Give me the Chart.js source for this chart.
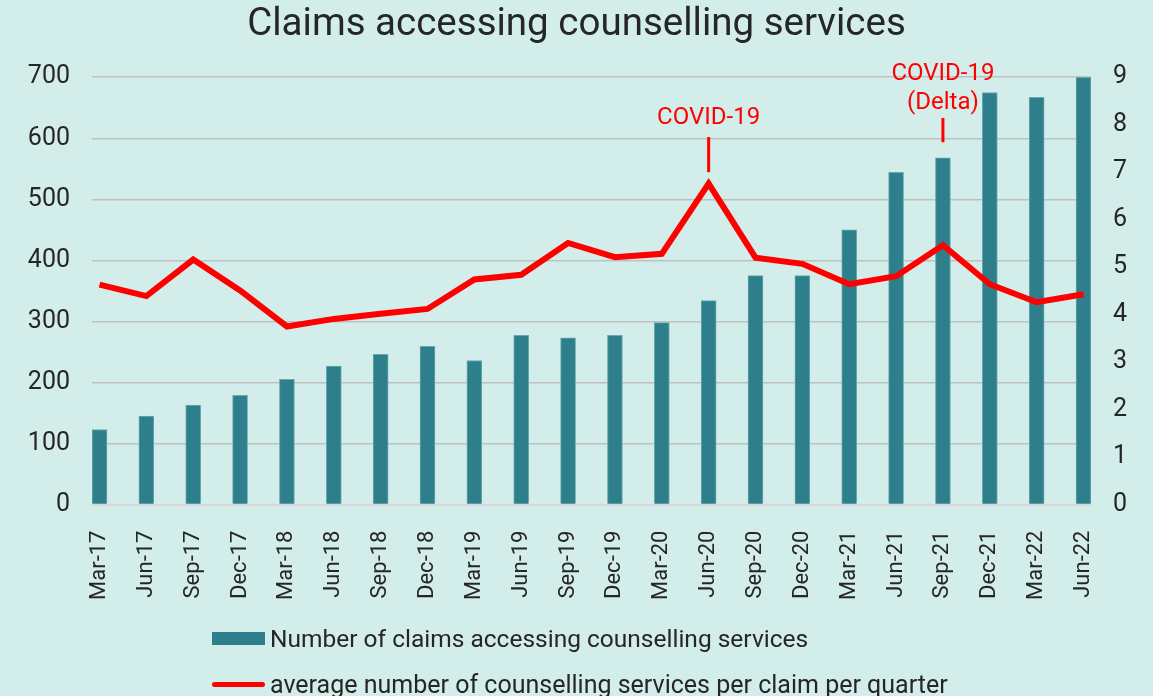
<!DOCTYPE html>
<html lang="en">
<head>
    <meta charset="UTF-8">
    <title>Claims accessing counselling services</title>
    <script src="https://cdn.jsdelivr.net/npm/chart.js"></script>
    <style>
        body { margin: 0; background: #d3eeea; font-family: Roboto, sans-serif; }
        #wrap { position: relative; width: 1153px; height: 696px; }
        #legend { position: absolute; left: 212px; top: 622px; color: #262626; font-size: 24.5px; }
        .item { display: flex; align-items: center; height: 32px; margin-bottom: 14px; }
        .item:last-child { font-size: 25px; }
        .swatch { width: 53px; margin-right: 5px; }
    </style>
</head>
<body>
    <div id="wrap">
        <canvas id="myChart" width="1153" height="696"></canvas>
        <div id="legend"></div>
    </div>

    <script>
        const quarters = ["Mar-17", "Jun-17", "Sep-17", "Dec-17", "Mar-18", "Jun-18", "Sep-18", "Dec-18",
            "Mar-19", "Jun-19", "Sep-19", "Dec-19", "Mar-20", "Jun-20", "Sep-20", "Dec-20",
            "Mar-21", "Jun-21", "Sep-21", "Dec-21", "Mar-22", "Jun-22"];
        const claims = [123, 145, 163, 179, 205, 227, 246, 259, 236, 277, 273, 277,
            298, 334, 375, 375, 450, 544, 568, 675, 667, 700];
        const avgServices = [4.63, 4.39, 5.16, 4.51, 3.75, 3.91, 4.02, 4.12, 4.74, 4.84, 5.51, 5.21,
            5.28, 6.76, 5.20, 5.07, 4.64, 4.81, 5.46, 4.64, 4.26, 4.43];

        // notes over the line, in right-axis units
        const notes = [
            { at: "Jun-20", lines: ["COVID-19"], textY: 8.14, tickFrom: 7.0, tickTo: 7.74 },
            { at: "Sep-21", lines: ["COVID-19", "(Delta)"], textY: 8.45, tickFrom: 7.63, tickTo: 8.14 }
        ];

        const teal = "#2e7f8c";
        const red = "#ff0000";

        const notePlugin = {
            id: "notes",
            afterDatasetsDraw(chart) {
                const ctx = chart.ctx;
                const x = chart.scales.x, y = chart.scales.y2;
                ctx.save();
                ctx.fillStyle = red;
                ctx.strokeStyle = red;
                ctx.lineWidth = 3;
                ctx.font = "24px Roboto";
                ctx.textAlign = "center";
                ctx.textBaseline = "middle";
                notes.forEach(n => {
                    const px = x.getPixelForValue(quarters.indexOf(n.at));
                    ctx.beginPath();
                    ctx.moveTo(px, y.getPixelForValue(n.tickFrom));
                    ctx.lineTo(px, y.getPixelForValue(n.tickTo));
                    ctx.stroke();
                    const base = y.getPixelForValue(n.textY);
                    n.lines.slice().reverse().forEach((t, i) => {
                        ctx.fillText(t, px, base - i * 29);
                    });
                });
                ctx.restore();
            }
        };

        const chart = new Chart(document.getElementById("myChart"), {
            data: {
                datasets: [
                    {
                        type: "line",
                        label: "average number of counselling services per claim per quarter",
                        data: avgServices.map((v, i) => ({ x: i, y: v })),
                        yAxisID: "y2",
                        borderColor: red,
                        backgroundColor: red,
                        borderWidth: 6,
                        pointRadius: 0,
                        order: 0
                    },
                    {
                        type: "bar",
                        label: "Number of claims accessing counselling services",
                        data: claims.map((v, i) => ({ x: i, y: v })),
                        yAxisID: "y",
                        backgroundColor: teal,
                        borderColor: "#6aa9b2",
                        borderWidth: { top: 1, left: 1, right: 1, bottom: 0 },
                        barThickness: 15,
                        order: 1
                    }
                ]
            },
            options: {
                responsive: false,
                animation: false,
                layout: { padding: { bottom: 78 } },
                plugins: {
                    legend: { display: false },
                    tooltip: { enabled: false },
                    title: {
                        display: true,
                        text: "Claims accessing counselling services",
                        color: "#262626",
                        font: { family: "Roboto", size: 38.5, weight: "normal" },
                        padding: { top: 2, bottom: 29 }
                    }
                },
                scales: {
                    x: {
                        type: "linear",
                        offset: false,
                        min: -0.16,
                        max: 21.16,
                        grid: { display: false },
                        border: { display: true, color: "#d9d9d9", width: 2 },
                        ticks: {
                            stepSize: 1,
                            includeBounds: false,
                            autoSkip: false,
                            minRotation: 90,
                            maxRotation: 90,
                            padding: 18,
                            color: "#262626",
                            font: { family: "Roboto", size: 22 },
                            callback: v => quarters[v]
                        }
                    },
                    y: {
                        position: "left",
                        min: 0,
                        max: 700,
                        afterFit: s => { s.width = 92; },
                        grid: { color: "#c0c0c0", lineWidth: 1.5, drawTicks: false },
                        border: { display: false },
                        ticks: {
                            stepSize: 100,
                            padding: 22,
                            color: "#262626",
                            font: { family: "Roboto", size: 25 }
                        }
                    },
                    y2: {
                        position: "right",
                        min: 0,
                        max: 9,
                        afterFit: s => { s.width = 62; },
                        grid: { drawOnChartArea: false, drawTicks: false },
                        border: { display: false },
                        ticks: {
                            stepSize: 1,
                            padding: 22,
                            color: "#262626",
                            font: { family: "Roboto", size: 25 }
                        }
                    }
                }
            },
            plugins: [notePlugin]
        });

        // legend: bars first, then the line
        const legend = document.getElementById("legend");
        [chart.data.datasets[1], chart.data.datasets[0]].forEach(ds => {
            const row = document.createElement("div");
            row.className = "item";
            const sw = document.createElement("span");
            sw.className = "swatch";
            if (ds.type === "bar") {
                sw.style.height = "13px";
                sw.style.background = teal;
            } else {
                sw.style.height = "5px";
                sw.style.borderRadius = "3px";
                sw.style.background = red;
            }
            const txt = document.createElement("span");
            txt.textContent = ds.label;
            row.appendChild(sw);
            row.appendChild(txt);
            legend.appendChild(row);
        });
    </script>
</body>
</html>
